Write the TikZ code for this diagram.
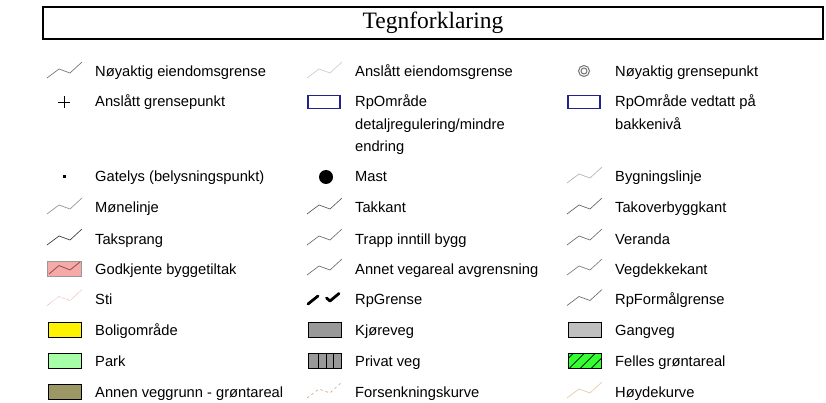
\documentclass[tikz,border=0pt]{standalone}
\usepackage{fontspec}
\setmainfont{Liberation Sans}
\newfontfamily\titlefont{Liberation Serif}
\definecolor{rpblue}{HTML}{22228C}
\definecolor{godkfill}{RGB}{246,169,169}
\definecolor{godkline}{RGB}{140,80,80}
\definecolor{stipink}{RGB}{230,120,120}
\definecolor{parkgreen}{RGB}{166,255,166}
\definecolor{fellesgreen}{RGB}{51,255,51}
\definecolor{olive}{RGB}{155,152,102}
\definecolor{forsenk}{RGB}{205,170,125}
\definecolor{hoyde}{RGB}{228,200,165}
\begin{document}
\begin{tikzpicture}[x=1pt,y=-1pt,
  lbl/.style={anchor=base west, inner sep=0pt, font=\fontsize{14.7}{22.5}\selectfont},
  zig/.pic={\draw[pic actions, line width=0.65pt] (0,6) -- (12,-3) -- (23,1) -- (35,-10);},
  area/.style={draw=black, line width=0.8pt},
  rpbox/.style={draw=rpblue, line width=1.3pt, fill=white},
]
\useasboundingbox (0,0) rectangle (826,403);
\node[draw=black, line width=2pt, minimum width=780pt, minimum height=32pt, anchor=north west, inner sep=0pt,
  font=\titlefont\fontsize{23.5}{27}\selectfont] (title) at (42,6) {Tegnforklaring};

% ---- row 1 (c=72)
\pic[draw=black!55] (i11) at (47,72) {zig};
\node[lbl] (t11) at (95,77) {Nøyaktig eiendomsgrense};
\pic[draw=black!20] (i12) at (307,72) {zig};
\node[lbl] (t12) at (355,77) {Anslått eiendomsgrense};
\node[circle, draw=black!55, line width=1pt, minimum size=11pt, inner sep=0pt] (i13) at (584,71) {};
\node[circle, draw=black!55, line width=1pt, minimum size=6pt, inner sep=0pt] (i13b) at (584,71) {};
\node[lbl] (t13) at (615,77) {Nøyaktig grensepunkt};

% ---- row 2 (c=102)
\coordinate (i21) at (64,102);
\draw[line width=0.8pt] ([xshift=-6pt]i21) -- ([xshift=6pt]i21) ([yshift=-6pt]i21) -- ([yshift=6pt]i21);
\node[lbl] (t21) at (95,107) {Anslått grensepunkt};
\draw[rpbox] (308,95.5) rectangle (340,108.5);
\node[lbl] (t22) at (355,107) {\begin{tabular}[t]{@{}l@{}}RpOmråde\\detaljregulering/mindre\\endring\end{tabular}};
\draw[rpbox] (568,95.5) rectangle (600,108.5);
\node[lbl] (t23) at (615,107) {\begin{tabular}[t]{@{}l@{}}RpOmråde vedtatt på\\bakkenivå\end{tabular}};

% ---- row 3 (c=177)
\fill (62.5,175.5) rectangle (65.5,178.5);
\node[lbl] (t31) at (95,182) {Gatelys (belysningspunkt)};
\node[circle, fill=black, minimum size=14pt, inner sep=0pt] (i32) at (326,177) {};
\node[lbl] (t32) at (355,182) {Mast};
\pic[draw=black!30] (i33) at (567,177) {zig};
\node[lbl] (t33) at (615,182) {Bygningslinje};

% ---- row 4 (c=208)
\pic[draw=black!42] (i41) at (47,208) {zig};
\node[lbl] (t41) at (95,213) {Mønelinje};
\pic[draw=black!65] (i42) at (307,208) {zig};
\node[lbl] (t42) at (355,213) {Takkant};
\pic[draw=black!62] (i43) at (567,208) {zig};
\node[lbl] (t43) at (615,213) {Takoverbyggkant};

% ---- row 5 (c=239)
\pic[draw=black!78] (i51) at (47,239) {zig};
\node[lbl] (t51) at (95,244) {Taksprang};
\pic[draw=black!58] (i52) at (307,239) {zig};
\node[lbl] (t52) at (355,244) {Trapp inntill bygg};
\pic[draw=black!58] (i53) at (567,239) {zig};
\node[lbl] (t53) at (615,244) {Veranda};

% ---- row 6 (c=269)
\draw[draw=black!40, fill=godkfill, line width=0.9pt] (47.5,261.5) rectangle (81,276.5);
\draw[draw=godkline, line width=0.8pt] (49,274) -- (59,265.5) -- (70,270) -- (80,262);
\node[lbl] (t61) at (95,274) {Godkjente byggetiltak};
\pic[draw=black!58] (i62) at (307,269) {zig};
\node[lbl] (t62) at (355,274) {Annet vegareal avgrensning};
\pic[draw=black!52] (i63) at (567,269) {zig};
\node[lbl] (t63) at (615,274) {Vegdekkekant};

% ---- row 7 (c=299.5)
\pic[draw=stipink, densely dotted] (i71) at (47,299.5) {zig};
\node[lbl] (t71) at (95,304.5) {Sti};
\draw[line width=2.8pt, line cap=round, line join=round] (308,304) -- (318,296);
\draw[line width=2.8pt, line cap=round, line join=round] (326.5,298) -- (330,301) -- (339,293.5);
\node[lbl] (t72) at (355,304.5) {RpGrense};
\pic[draw=black!58] (i73) at (567,299.5) {zig};
\node[lbl] (t73) at (615,304.5) {RpFormålgrense};

% ---- row 8 (c=330)
\draw[area, fill=yellow] (48,322.5) rectangle (81,337.5);
\node[lbl] (t81) at (95,335) {Boligområde};
\draw[area, fill=black!40] (308,322.5) rectangle (341,337.5);
\node[lbl] (t82) at (355,335) {Kjøreveg};
\draw[area, fill=black!25] (568,322.5) rectangle (601,337.5);
\node[lbl] (t83) at (615,335) {Gangveg};

% ---- row 9 (c=361)
\draw[area, fill=parkgreen] (48,353.5) rectangle (81,368.5);
\node[lbl] (t91) at (95,366) {Park};
\draw[area, fill=black!40] (308,353.5) rectangle (341,368.5);
\draw[line width=0.8pt] (318,353.5) -- (318,368.5) (326,353.5) -- (326,368.5) (333.5,353.5) -- (333.5,368.5);
\node[lbl] (t92) at (355,366) {Privat veg};
\fill[fellesgreen] (568,353.5) rectangle (601,368.5);
\begin{scope}
  \clip (568,353.5) rectangle (601,368.5);
  \draw[line width=0.7pt] (558,368.5) -- (573,353.5) (569,368.5) -- (584,353.5) (580,368.5) -- (595,353.5) (591,368.5) -- (606,353.5);
\end{scope}
\draw[area] (568,353.5) rectangle (601,368.5);
\node[lbl] (t93) at (615,366) {Felles grøntareal};

% ---- row 10 (c=392)
\draw[area, fill=olive] (48,384.5) rectangle (81,399.5);
\node[lbl] (t101) at (95,397) {Annen veggrunn - grøntareal};
\pic[draw=forsenk, line width=0.8pt, dash pattern=on 2.5pt off 3pt] (i102) at (307,392) {zig};
\node[lbl] (t102) at (355,397) {Forsenkningskurve};
\pic[draw=hoyde] (i103) at (567,392) {zig};
\node[lbl] (t103) at (615,397) {Høydekurve};
\end{tikzpicture}
\end{document}
